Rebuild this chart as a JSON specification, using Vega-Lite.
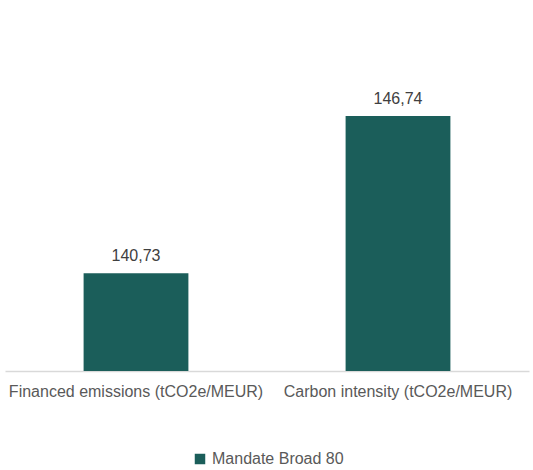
{
  "$schema": "https://vega.github.io/schema/vega-lite/v6.json",
  "autosize": "none",
  "width": 524,
  "height": 300,
  "padding": {"left": 5, "top": 71, "right": 4, "bottom": 99},
  "background": "white",
  "data": {
    "values": [
      {"metric": "Financed emissions (tCO2e/MEUR)", "series": "Mandate Broad 80", "value": 140.73},
      {"metric": "Carbon intensity (tCO2e/MEUR)", "series": "Mandate Broad 80", "value": 146.74}
    ]
  },
  "encoding": {
    "x": {
      "field": "metric",
      "type": "nominal",
      "sort": null,
      "title": null,
      "scale": {"paddingInner": 0.6, "paddingOuter": 0.3},
      "axis": {
        "labelAngle": 0,
        "labelFont": "Liberation Sans",
        "labelFontSize": 16,
        "labelColor": "#595959",
        "labelPadding": 12,
        "labelLimit": 0,
        "ticks": false,
        "domainColor": "#d9d9d9",
        "domainWidth": 1.5,
        "grid": false
      }
    },
    "y": {
      "field": "value",
      "type": "quantitative",
      "scale": {"domain": [137, 148.46], "nice": false, "zero": false},
      "axis": null
    }
  },
  "layer": [
    {
      "mark": {"type": "bar", "clip": true},
      "encoding": {
        "y2": {"datum": 137},
        "color": {
          "field": "series",
          "type": "nominal",
          "scale": {"range": ["#1b5e5a"]},
          "legend": {
            "title": null,
            "orient": "none",
            "legendX": 187,
            "legendY": 380,
            "direction": "horizontal",
            "symbolType": "square",
            "symbolSize": 110,
            "symbolStrokeWidth": 0,
            "labelFont": "Liberation Sans",
            "labelFontSize": 16,
            "labelColor": "#595959",
            "labelOffset": 4
          }
        }
      }
    },
    {
      "mark": {
        "type": "text",
        "baseline": "alphabetic",
        "dy": -12,
        "font": "Liberation Sans",
        "fontSize": 16,
        "color": "#404040"
      },
      "encoding": {
        "text": {"field": "value", "type": "quantitative", "format": ".2f"}
      }
    }
  ],
  "config": {
    "view": {"stroke": null},
    "locale": {
      "number": {"decimal": ",", "thousands": ".", "grouping": [3], "currency": ["", " €"]}
    }
  }
}
